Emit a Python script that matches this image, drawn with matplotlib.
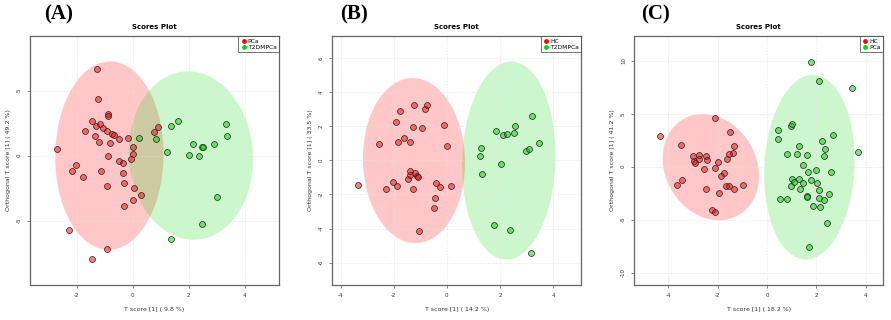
import numpy as np
import matplotlib
matplotlib.use("Agg")
import matplotlib.pyplot as plt

# ---- data ----
# (A) PCa vs T2DMPCa
a_red_x = [-1.29, -1.26, -0.87, -0.90, -1.44, -1.17, -1.32, -1.07, -1.69, -0.91, -0.75, -0.66,
           -1.34, -0.48, -0.18, -1.19, -0.83, 0.00, 0.76, 0.90, -2.69, -0.87, 0.00, -2.02,
           -0.48, -0.36, -0.06, -2.17, -1.13, -1.76, -0.36, -0.93, -0.33, 0.06, 0.30, 0.00,
           -0.31, -2.26, -0.91, -1.45]
a_red_y = [6.65, 4.36, 3.18, 3.05, 2.65, 2.46, 2.31, 2.11, 1.88, 1.88, 1.64, 1.59,
           1.54, 1.31, 1.36, 1.03, 0.98, 0.69, 1.82, 2.18, 0.54, 0.00, 0.15, -0.74,
           -0.38, -0.59, -0.23, -1.18, -1.18, -1.61, -1.31, -2.33, -2.13, -2.49, -3.02, -3.38,
           -3.85, -5.72, -7.15, -7.97]
a_grn_x = [0.22, 0.82, 1.36, 1.63, 3.31, 3.38, 2.14, 2.46, 2.50, 2.89, 1.22, 2.00, 2.38,
           3.02, 2.48, 1.37]
a_grn_y = [1.34, 1.31, 2.31, 2.65, 2.42, 1.54, 0.88, 0.64, 0.64, 0.88, 0.26, 0.08, -0.05,
           -3.20, -5.25, -6.38]

# (B) HC vs T2DMPCa
b_red_x = [-2.56, -1.91, -1.77, -1.24, -0.74, -0.83, -1.28, -0.93, -0.09, -1.62, -1.82, -1.38,
           -0.01, -3.34, -2.29, -2.01, -1.88, -1.47, -1.38, -1.37, -1.21, -1.12, -1.08, -1.28,
           -0.40, -0.25, 0.15, -0.43, -0.48, -1.05]
b_red_y = [0.96, 2.23, 2.91, 3.26, 3.26, 2.99, 1.94, 1.89, 2.09, 1.29, 1.07, 1.07,
           0.84, -1.43, -1.67, -1.26, -1.53, -1.08, -0.65, -0.84, -0.73, -0.94, -0.98, -1.68,
           -1.31, -1.55, -1.53, -2.19, -2.81, -4.13]
b_grn_x = [1.86, 2.13, 2.28, 2.52, 2.58, 3.20, 3.46, 2.98, 3.09, 1.30, 1.25, 2.05, 1.32,
           1.76, 2.36, 3.15]
b_grn_y = [1.70, 1.48, 1.52, 1.62, 1.99, 2.58, 1.03, 0.56, 0.65, 0.74, 0.25, -0.23, -0.79,
           -3.81, -4.09, -5.42]

# (C) HC vs PCa
c_red_x = [-4.34, -3.48, -2.10, -1.50, -1.36, -1.39, -1.54, -3.02, -2.77, -2.48, -1.64, -2.98,
           -2.94, -2.77, -2.43, -1.97, -2.56, -2.09, -1.74, -1.85, -3.43, -3.64, -1.68, -1.54,
           -0.98, -2.48, -1.35, -1.96, -2.24, -2.10]
c_red_y = [2.93, 2.05, 4.57, 3.31, 1.99, 1.27, 1.17, 0.98, 1.11, 1.01, 0.76, 0.54,
           0.32, 0.73, 0.60, 0.42, -0.19, -0.09, -0.57, -0.85, -1.26, -1.70, -1.82, -1.80,
           -1.73, -2.11, -2.11, -2.46, -4.09, -4.28]
c_grn_x = [1.76, 2.10, 3.46, 0.43, 0.43, 0.96, 1.03, 2.67, 2.23, 2.35, 1.31, 0.79, 1.20,
           1.61, 2.32, 3.67, 1.46, 1.98, 1.65, 2.61, 1.00, 1.08, 0.95, 1.31, 1.46, 1.76,
           2.04, 1.32, 2.09, 2.51, 1.61, 1.63, 2.09, 2.32, 0.51, 0.80, 1.86, 2.13, 2.43, 1.69]
c_grn_y = [9.92, 8.13, 7.47, 3.44, 2.65, 3.88, 4.00, 2.96, 2.40, 1.67, 1.96, 1.20, 1.17,
           1.08, 0.98, 1.36, 0.16, -0.28, -0.47, -0.50, -1.19, -1.45, -1.82, -1.16, -1.57, -1.23,
           -1.51, -2.11, -2.17, -2.58, -2.80, -2.86, -2.96, -3.12, -3.02, -3.08, -3.71, -3.78, -5.29, -7.56]

letters = ["(A)", "(B)", "(C)"]
groups = [("PCa", "T2DMPCa"), ("HC", "T2DMPCa"), ("HC", "PCa")]
x_labels = ["T score [1] ( 9.8 %)", "T score [1] ( 14.2 %)", "T score [1] ( 18.2 %)"]
y_labels = ["Orthogonal T score [1] ( 49.2 %)", "Orthogonal T score [1] ( 33.5 %)",
            "Orthogonal T score [1] ( 41.2 %)"]
x_ticks = [[-2, 0, 2, 4], [-4, -2, 0, 2, 4], [-4, -2, 0, 2, 4]]
y_ticks = [[-5, 0, 5], [-6, -4, -2, 0, 2, 4, 6], [-10, -5, 0, 5, 10]]
x_lims = [(-3.67, 5.22), (-4.31, 5.06), (-5.38, 4.71)]
y_lims = [(-9.95, 9.2), (-7.31, 7.29), (-11.18, 12.35)]

red_sets = [(a_red_x, a_red_y), (b_red_x, b_red_y), (c_red_x, c_red_y)]
grn_sets = [(a_grn_x, a_grn_y), (b_grn_x, b_grn_y), (c_grn_x, c_grn_y)]


def conf_ellipse(x, y, n=200):
    # 95 % confidence ellipse from the group scores
    pts = np.column_stack([x, y])
    mu = pts.mean(axis=0)
    cov = np.cov(pts, rowvar=False)
    L = np.linalg.cholesky(cov)
    t = np.linspace(0, 2 * np.pi, n)
    circ = np.vstack([np.cos(t), np.sin(t)]) * np.sqrt(5.991)
    e = (L @ circ).T + mu
    return e[:, 0], e[:, 1]


red = (1.0, 0.0, 0.0)
grn = (0.0, 0.82, 0.0)

fig = plt.figure(figsize=(8.91, 3.2), dpi=100)
lefts = [30, 332.3, 634.3]
for i in range(3):
    ax = fig.add_axes([lefts[i] / 891, 35 / 320, 249 / 891, 249 / 320])
    rx, ry = red_sets[i]
    gx, gy = grn_sets[i]
    ex, ey = conf_ellipse(rx, ry)
    ax.fill(ex, ey, color=red, alpha=0.22, lw=0, zorder=1)
    ex, ey = conf_ellipse(gx, gy)
    ax.fill(ex, ey, color=(0.1, 0.85, 0.1), alpha=0.22, lw=0, zorder=1)
    ax.scatter(rx, ry, s=18, facecolor=red + (0.5,), edgecolor="#2a2a2a", lw=0.55, zorder=3)
    ax.scatter(gx, gy, s=18, facecolor=grn + (0.5,), edgecolor="#2a2a2a", lw=0.55, zorder=3)

    ax.set_xlim(x_lims[i])
    ax.set_ylim(y_lims[i])
    ax.set_xticks(x_ticks[i])
    ax.set_yticks(y_ticks[i])
    ax.set_xticklabels([str(v) for v in x_ticks[i]])
    ax.set_yticklabels([str(v) for v in y_ticks[i]], rotation=90, va="center")
    ax.tick_params(labelsize=4, length=2, width=0.5, color="#555555", pad=4, labelcolor="#333333")
    ax.grid(True, color="#e2e2e2", lw=0.5, ls=(0, (2, 2)), zorder=0)
    for sp in ax.spines.values():
        sp.set_color("#666666")
        sp.set_linewidth(0.9)
    ax.set_xlabel(x_labels[i], fontsize=4.5, color="#333333", labelpad=6)
    ax.set_ylabel(y_labels[i], fontsize=4.5, color="#333333", labelpad=4)
    ax.set_title("Scores Plot", fontsize=5, fontweight="bold", pad=5)

    h1 = ax.scatter([], [], s=6, color=red)
    h2 = ax.scatter([], [], s=6, color=(0.0, 0.85, 0.0))
    leg = ax.legend([h1, h2], list(groups[i]), loc="upper right", fontsize=4.3,
                    frameon=True, fancybox=False, borderpad=0.4, handletextpad=0.2,
                    labelspacing=0.2, borderaxespad=0, handlelength=1.0)
    leg.get_frame().set_edgecolor("#333333")
    leg.get_frame().set_linewidth(0.6)

    fig.text((lefts[i] + [29, 22, 21][i]) / 891, 1 - 14 / 320, letters[i], fontsize=15,
             fontweight="bold", family="Liberation Serif", ha="center", va="center")

fig.savefig("out.png", dpi=100)
